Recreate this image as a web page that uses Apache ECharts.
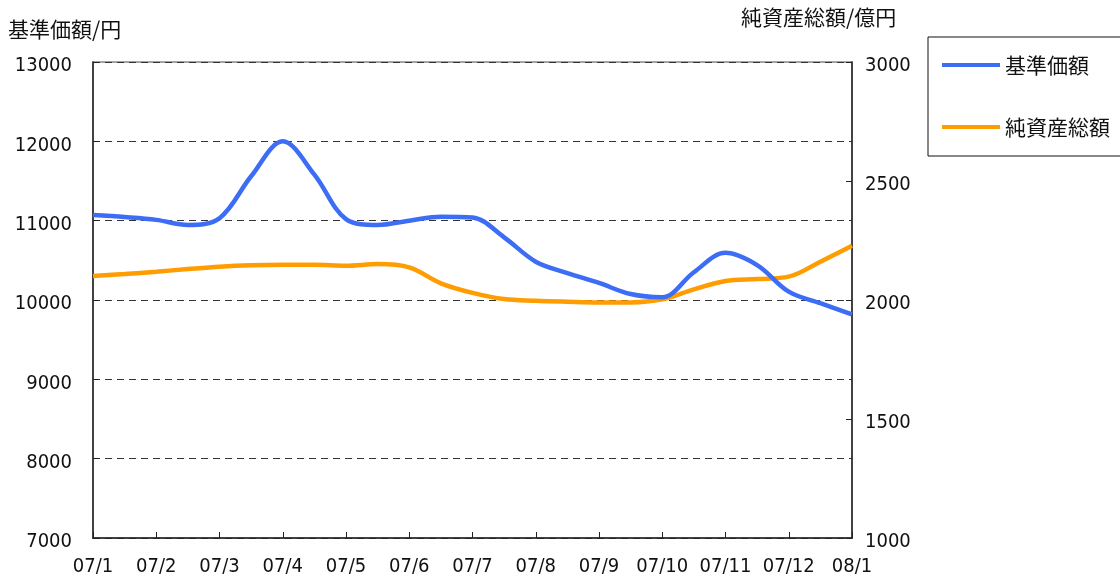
<!DOCTYPE html>
<html><head><meta charset="utf-8">
<script src="https://cdn.jsdelivr.net/npm/echarts@6/dist/echarts.min.js"></script>
<style>html,body{margin:0;padding:0;background:#fff}#c{width:1120px;height:579px}</style>
</head><body><div id="c"></div>
<script>
// half-month sample points; labels only on month points
const categories = ['07/1','','07/2','','07/3','','07/4','','07/5','','07/6','','07/7','','07/8','','07/9','','07/10','','07/11','','07/12','','08/1'];
const navValues = [11070,11045,11010,10945,11030,11560,12000,11580,11020,10945,11000,11050,11040,10790,10483,10340,10215,10075,10035,10350,10595,10440,10105,9960,9820];
const aumValues = [2101,2109,2119,2130,2140,2146,2148,2148,2144,2151,2137,2070,2030,2004,1997,1993,1990,1990,2003,2045,2080,2088,2098,2161,2228];
const leftTicks = {min:7000, max:13000, interval:1000};
const rightTicks = {min:1000, max:3000, interval:500};
const seriesNames = ['基準価額','純資産総額'];
const leftTitle = '基準価額/円';
const rightTitle = '純資産総額/億円';

const cjk = "'Noto Sans CJK JP', sans-serif";
const num = "'Liberation Sans Narrow', 'DejaVu Sans Condensed', 'Noto Sans CJK JP', sans-serif";
const chart = echarts.init(document.getElementById('c'));
chart.setOption({
  animation:false,
  textStyle:{fontFamily:cjk},
  grid:{left:93, right:268, top:62, bottom:41, show:true, borderColor:'#888', borderWidth:1.5},
  legend:{
    orient:'vertical', left:928, top:37, icon:'rect', itemWidth:58, itemHeight:4, itemGap:40,
    padding:[17,40,18,14], borderColor:'#111', borderWidth:1,
    textStyle:{fontSize:21, lineHeight:22, color:'#111', fontFamily:cjk},
    data:seriesNames
  },
  graphic:[
    {type:'text', x:8, y:29, style:{text:leftTitle, fill:'#111', font:"21px "+cjk, verticalAlign:'middle'}},
    {type:'text', x:741, y:17, style:{text:rightTitle, fill:'#111', font:"21px "+cjk, verticalAlign:'middle'}}
  ],
  xAxis:{
    type:'category', data:categories, boundaryGap:false,
    axisLine:{lineStyle:{color:'#222', width:1.5}},
    axisTick:{inside:true, length:6, interval:(i)=>i%2===0, lineStyle:{color:'#222'}},
    axisLabel:{interval:0, color:'#111', fontSize:20, margin:19, fontFamily:num},
    splitLine:{show:false}
  },
  yAxis:[
    {type:'value', min:leftTicks.min, max:leftTicks.max, interval:leftTicks.interval,
     axisLine:{show:true, lineStyle:{color:'#222', width:1.5}},
     axisTick:{show:true, inside:true, length:6, lineStyle:{color:'#222'}},
     axisLabel:{color:'#111', fontSize:20, margin:21, verticalAlign:'top', lineHeight:8, fontFamily:num, formatter:(v)=>String(v)},
     splitLine:{show:true, lineStyle:{color:'#333', type:[7,5], width:1}}},
    {type:'value', min:rightTicks.min, max:rightTicks.max, interval:rightTicks.interval, position:'right',
     axisLine:{show:true, lineStyle:{color:'#222', width:1.5}},
     axisTick:{show:true, inside:true, length:6, lineStyle:{color:'#222'}},
     axisLabel:{color:'#111', fontSize:20, margin:13, verticalAlign:'top', lineHeight:8, fontFamily:num, formatter:(v)=>String(v)},
     splitLine:{show:false}}
  ],
  series:[
    {name:seriesNames[0], type:'line', yAxisIndex:0, data:navValues, smooth:0.35, symbol:'none',
     lineStyle:{color:'#3d6df5', width:4.5}, itemStyle:{color:'#3d6df5'}, z:3},
    {name:seriesNames[1], type:'line', yAxisIndex:1, data:aumValues, smooth:0.35, symbol:'none',
     lineStyle:{color:'#ff9d00', width:4.5}, itemStyle:{color:'#ff9d00'}, z:2}
  ]
});
</script></body></html>
